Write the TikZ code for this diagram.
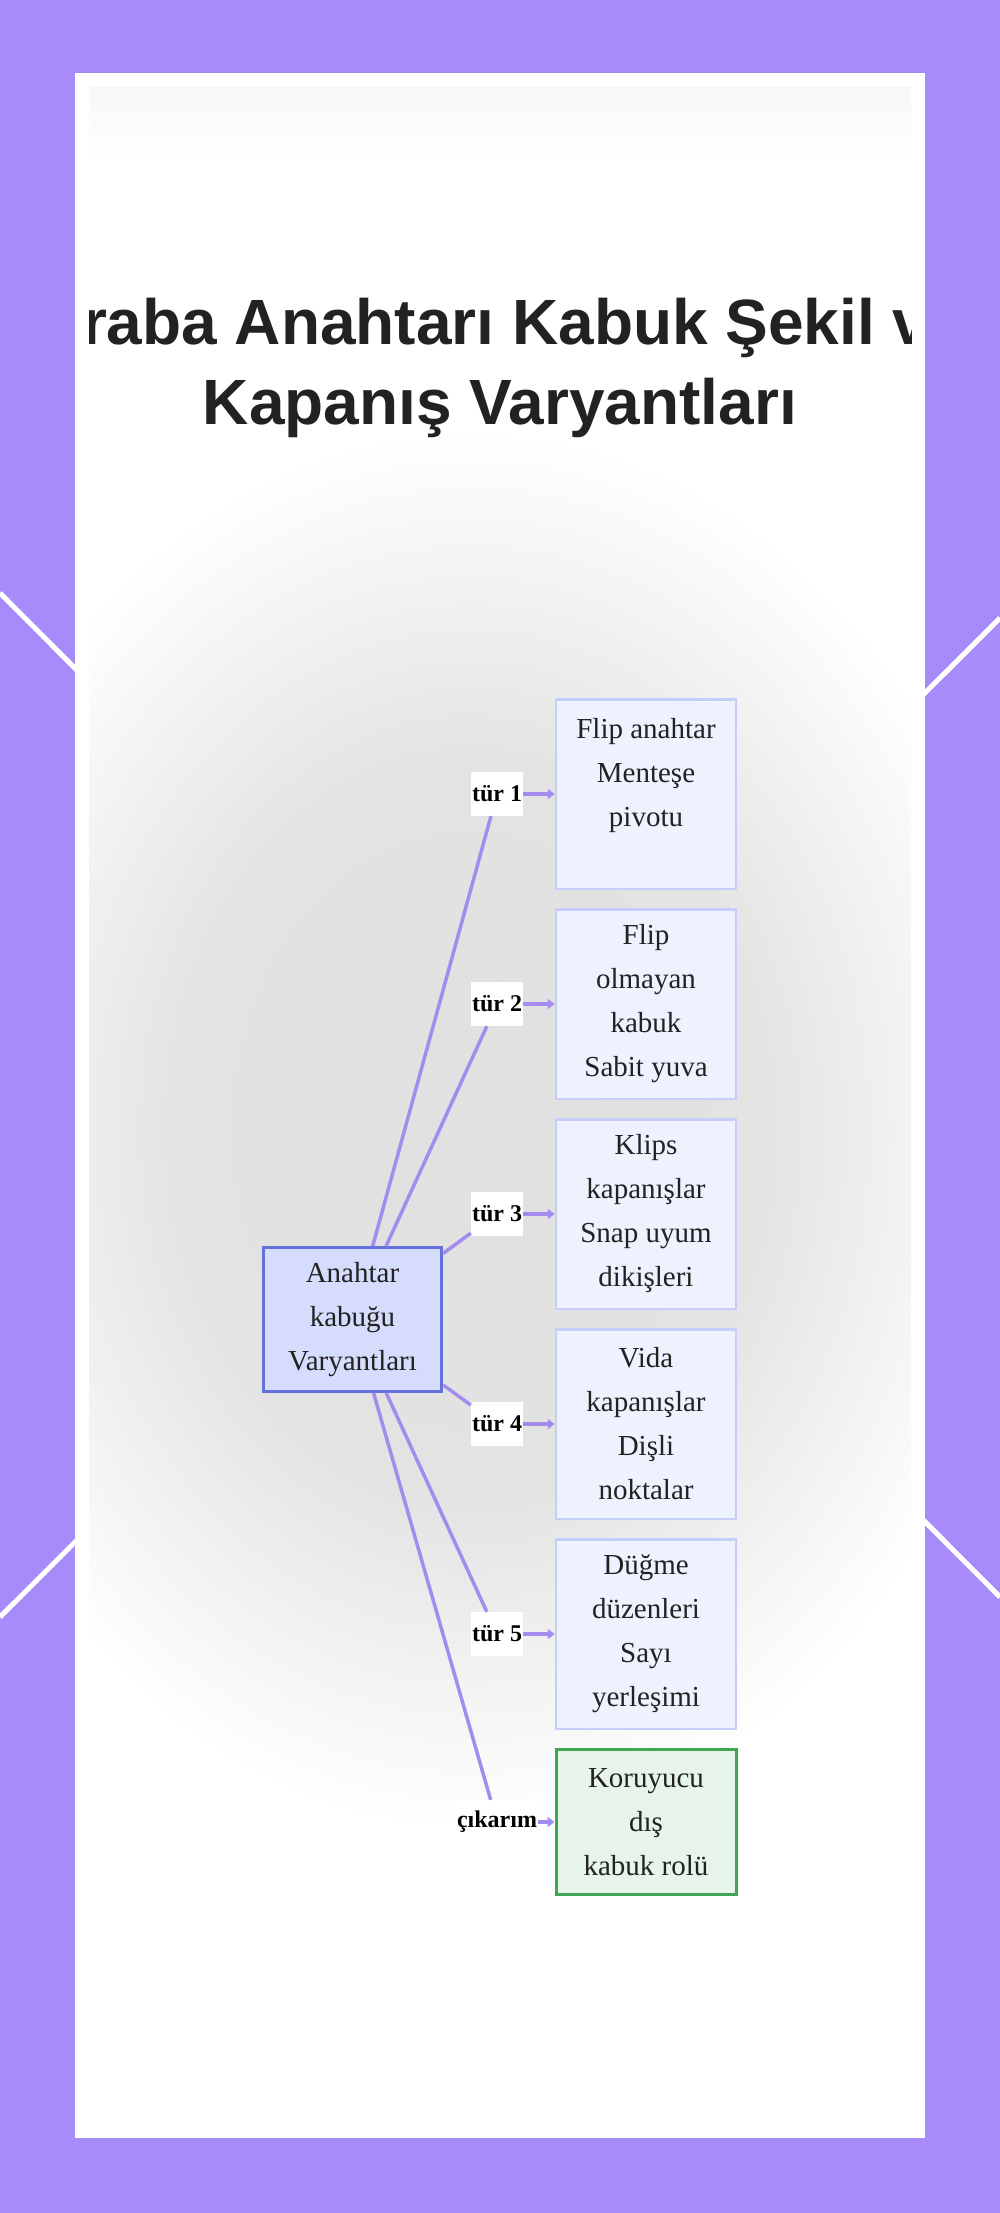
\documentclass[tikz,border=0pt]{standalone}
\usepackage{fontspec}
\setmainfont{Liberation Serif}
\newfontfamily\headfont{Liberation Sans}
\usetikzlibrary{positioning, arrows.meta}
\definecolor{bgviolet}{HTML}{A78BFA}
\definecolor{linkviolet}{HTML}{A48CEE}
\definecolor{boxfill}{HTML}{EEF1FE}
\definecolor{boxdraw}{HTML}{C6CDF8}
\definecolor{hubfill}{HTML}{D6DCFC}
\definecolor{hubdraw}{HTML}{6372D8}
\definecolor{okfill}{HTML}{E6F4E9}
\definecolor{okdraw}{HTML}{3FA656}
\definecolor{inktext}{HTML}{222222}
\pgfdeclareradialshading{haze}{\pgfpoint{0bp}{0bp}}{color(0bp)=(black!12); color(13bp)=(black!11); color(25bp)=(white); color(50bp)=(white)}
\tikzset{
  variant/.style={rectangle, draw=boxdraw, fill=boxfill, line width=2.5pt,
    minimum width=180pt, minimum height=189.5pt, align=center, text=inktext,
    font=\fontsize{29}{44}\selectfont},
  hub/.style={variant, draw=hubdraw, fill=hubfill, line width=3pt,
    minimum width=178pt, minimum height=144pt},
  result/.style={variant, draw=okdraw, fill=okfill, line width=3pt,
    minimum height=145pt},
  tag/.style={fill=white, inner xsep=1pt, inner ysep=0pt, minimum height=44pt,
    text=black, font=\fontsize{24}{24}\selectfont\bfseries},
  link/.style={draw=linkviolet, line width=3.5pt},
  arrow/.style={link, -{Triangle[length=7pt, width=10pt]}},
}
\begin{document}
\begin{tikzpicture}[x=1pt, y=-1pt]
  \useasboundingbox (0,0) rectangle (1000,2213);
  \fill[bgviolet] (0,0) rectangle (1000,2213);
  \draw[white, line width=5pt] (0,593) -- (1000,1597);
  \draw[white, line width=5pt] (0,1617) -- (1000,618);
  \fill[white] (75,73) rectangle (925,2138);

  % blurred backdrop and clipped title
  \begin{scope}
    \clip (89,88) rectangle (911,2124);
    \shade[top color=black!3, bottom color=white] (89,88) rectangle (911,160);
    \shade[shading=haze] (470,1130) ellipse [x radius=560, y radius=700];
    \node[font=\headfont\fontsize{64}{80}\selectfont\bfseries, text=inktext,
          align=center, anchor=north, inner sep=0pt] (title) at (500,298)
          {Araba Anahtarı Kabuk Şekil ve\\Kapanış Varyantları};
  \end{scope}

  \node[variant]                    (flip)   at (646,794) {Flip anahtar\\Menteşe\\pivotu\\\mbox{}};
  \node[variant, below=18pt of flip]   (fixed)  {Flip\\olmayan\\kabuk\\Sabit yuva};
  \node[variant, below=18pt of fixed]  (clips)  {Klips\\kapanışlar\\Snap uyum\\dikişleri};
  \node[variant, below=18pt of clips]  (screws) {Vida\\kapanışlar\\Dişli\\noktalar};
  \node[variant, below=18pt of screws] (keys)   {Düğme\\düzenleri\\Sayı\\yerleşimi};
  \node[result,  below=18pt of keys]   (role)   {Koruyucu\\dış\\kabuk rolü};
  \node[hub] (shell) at (352.5,1319.5) {Anahtar\\kabuğu\\Varyantları};

  \node[tag] (t1) at (497,0 |- flip)   {tür 1};
  \node[tag] (t2) at (497,0 |- fixed)  {tür 2};
  \node[tag] (t3) at (497,0 |- clips)  {tür 3};
  \node[tag] (t4) at (497,0 |- screws) {tür 4};
  \node[tag] (t5) at (497,0 |- keys)   {tür 5};
  \node[tag] (out) at (497,0 |- role)  {çıkarım};

  \draw[link]  (shell) -- (t1);
  \draw[arrow] (t1)    -- (flip);
  \draw[link]  (shell) -- (t2);
  \draw[arrow] (t2)    -- (fixed);
  \draw[link]  (shell) -- (t3);
  \draw[arrow] (t3)    -- (clips);
  \draw[link]  (shell) -- (t4);
  \draw[arrow] (t4)    -- (screws);
  \draw[link]  (shell) -- (t5);
  \draw[arrow] (t5)    -- (keys);
  \draw[link]  (shell) -- (out);
  \draw[arrow] (out)   -- (role);
\end{tikzpicture}
\end{document}
